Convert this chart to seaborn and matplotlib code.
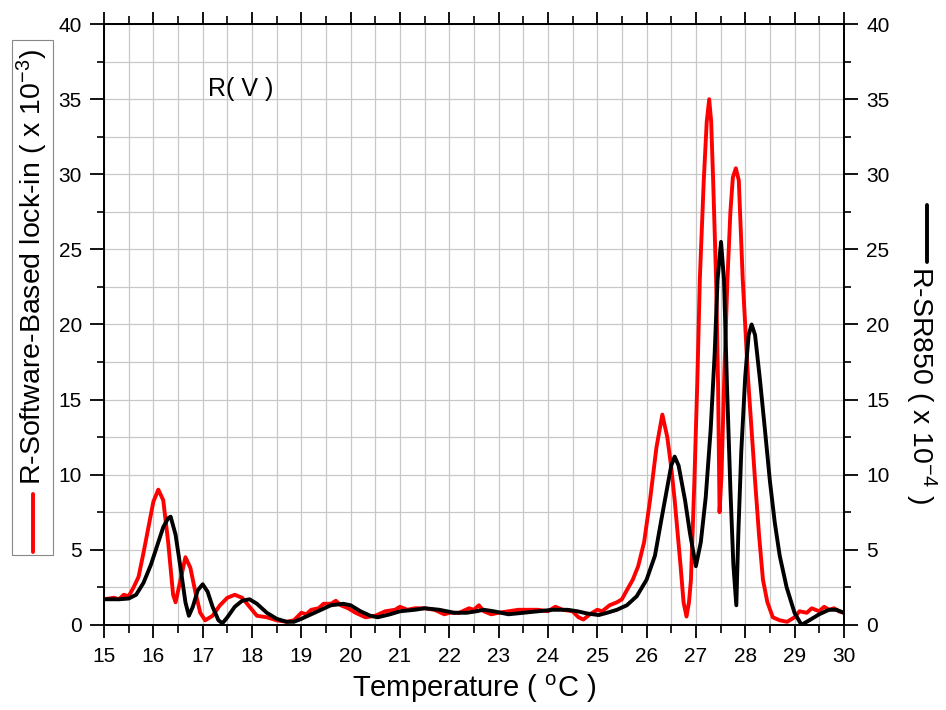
import numpy as np
import pandas as pd
import seaborn as sns
import matplotlib.pyplot as plt
from matplotlib.lines import Line2D
from matplotlib.patches import Rectangle
from matplotlib.ticker import MultipleLocator

# R - software-based lock-in (x 10^-3)
red_t = [15.0, 15.2, 15.3, 15.4, 15.5, 15.6, 15.7, 15.8, 15.9, 16.0, 16.1, 16.2, 16.3, 16.4, 16.45,
         16.55, 16.65, 16.75, 16.85, 16.95, 17.05, 17.2, 17.35, 17.5, 17.65, 17.8, 17.95, 18.1, 18.3,
         18.5, 18.7, 18.85, 19.0, 19.1, 19.2, 19.35, 19.45, 19.6, 19.7, 19.8, 19.95, 20.1, 20.3, 20.5,
         20.7, 20.9, 21.0, 21.15, 21.3, 21.5, 21.7, 21.9, 22.0, 22.2, 22.4, 22.5, 22.6, 22.7, 22.85,
         23.0, 23.2, 23.4, 23.6, 23.8, 24.0, 24.15, 24.3, 24.5, 24.62, 24.72, 24.85, 25.0, 25.1, 25.25,
         25.4, 25.5, 25.6, 25.72, 25.83, 25.95, 26.07, 26.2, 26.32, 26.42, 26.5, 26.57, 26.69, 26.75,
         26.81, 26.86, 26.9, 26.97, 27.03, 27.08, 27.16, 27.22, 27.27, 27.31, 27.35, 27.41, 27.45,
         27.48, 27.52, 27.58, 27.64, 27.7, 27.75, 27.81, 27.87, 27.95, 28.06, 28.2, 28.28, 28.36,
         28.45, 28.56, 28.7, 28.85, 29.0, 29.1, 29.25, 29.35, 29.5, 29.6, 29.7, 29.8, 29.9, 30.0]
red_r = [1.7, 1.8, 1.7, 2.0, 1.9, 2.5, 3.2, 4.8, 6.5, 8.2, 9.0, 8.3, 5.5, 2.0, 1.5,
         3.0, 4.5, 3.8, 2.2, 0.8, 0.3, 0.6, 1.3, 1.8, 2.0, 1.8, 1.2, 0.6, 0.5,
         0.3, 0.2, 0.3, 0.8, 0.7, 1.0, 1.1, 1.4, 1.4, 1.6, 1.3, 1.1, 0.8, 0.5, 0.6,
         0.9, 1.0, 1.2, 1.0, 1.1, 1.1, 1.0, 0.7, 0.8, 0.8, 1.1, 1.0, 1.3, 0.9, 0.7,
         0.8, 0.9, 1.0, 1.0, 1.0, 0.9, 1.2, 1.0, 0.9, 0.5, 0.35, 0.7, 1.0, 0.9, 1.3,
         1.5, 1.7, 2.3, 3.0, 3.9, 5.5, 8.3, 11.8, 14.0, 12.5, 10.5, 8.3, 3.9, 1.5,
         0.55, 1.5, 3.0, 9.6, 16.3, 23.0, 29.6, 33.5, 35.0, 33.5, 29.6, 23.0, 16.0,
         7.5, 10.0, 17.0, 23.0, 27.5, 29.8, 30.4, 29.6, 23.0, 16.3, 9.6, 6.0, 3.0,
         1.5, 0.5, 0.3, 0.2, 0.5, 0.9, 0.8, 1.1, 0.9, 1.2, 1.0, 1.1, 0.9, 0.8]

# R - SR850 (x 10^-4)
blk_t = [15.0, 15.3, 15.5, 15.65, 15.8, 15.95, 16.1, 16.2, 16.3, 16.35, 16.45, 16.55, 16.65, 16.72,
         16.8, 16.9, 17.0, 17.1, 17.2, 17.32, 17.4, 17.5, 17.65, 17.8, 17.95, 18.1, 18.3, 18.5, 18.7,
         18.85, 19.0, 19.2, 19.4, 19.6, 19.85, 20.0, 20.2, 20.4, 20.55, 20.8, 21.0, 21.3, 21.5, 21.8,
         22.1, 22.35, 22.55, 22.7, 22.9, 23.2, 23.5, 23.8, 24.1, 24.4, 24.6, 24.8, 25.03, 25.2, 25.4,
         25.6, 25.8, 26.0, 26.17, 26.3, 26.4, 26.5, 26.57, 26.65, 26.78, 26.88, 27.0, 27.1, 27.2,
         27.3, 27.38, 27.44, 27.51, 27.57, 27.63, 27.7, 27.76, 27.82, 27.86, 27.92, 28.0, 28.07, 28.13,
         28.2, 28.3, 28.4, 28.5, 28.6, 28.7, 28.84, 29.0, 29.14, 29.3, 29.5, 29.7, 29.85, 30.0]
blk_r = [1.7, 1.7, 1.75, 2.0, 2.8, 4.0, 5.5, 6.5, 7.1, 7.2, 6.0, 3.8, 1.5, 0.6,
         1.2, 2.3, 2.7, 2.2, 1.2, 0.3, 0.1, 0.5, 1.2, 1.6, 1.7, 1.4, 0.8, 0.4, 0.2,
         0.2, 0.4, 0.7, 1.0, 1.3, 1.4, 1.3, 0.9, 0.6, 0.5, 0.7, 0.9, 1.0, 1.1, 1.0,
         0.8, 0.8, 0.9, 1.0, 0.9, 0.7, 0.8, 0.9, 1.0, 1.0, 0.9, 0.75, 0.65, 0.8, 1.0,
         1.3, 1.9, 3.0, 4.6, 7.0, 8.8, 10.6, 11.2, 10.6, 8.3, 6.1, 3.9, 5.5, 8.5,
         13.0, 18.0, 23.0, 25.5, 23.0, 16.0, 9.0, 4.0, 1.3, 6.0, 11.5, 16.5, 19.3, 20.0,
         19.3, 16.3, 13.0, 9.6, 6.8, 4.6, 2.5, 0.8, 0.0, 0.3, 0.7, 1.0, 1.0, 0.8]

sns.set_theme(style="ticks")
plt.rcParams["font.family"] = ["Liberation Sans", "DejaVu Sans"]
plt.rcParams["mathtext.fontset"] = "custom"
plt.rcParams["mathtext.rm"] = "Liberation Sans"
plt.rcParams["mathtext.it"] = "Liberation Sans"
plt.rcParams["text.color"] = "black"
plt.rcParams["axes.labelcolor"] = "black"
plt.rcParams["xtick.color"] = "black"
plt.rcParams["ytick.color"] = "black"

df_red = pd.DataFrame({"t": red_t, "r": red_r})
df_blk = pd.DataFrame({"t": blk_t, "r": blk_r})

fig = plt.figure(figsize=(9.46, 7.10), dpi=100)
ax = fig.add_axes([0.110, 0.120, 0.782, 0.846])
ax2 = ax.twinx()

sns.lineplot(data=df_red, x="t", y="r", ax=ax, color="#ff0000", lw=2.8, sort=False)
sns.lineplot(data=df_blk, x="t", y="r", ax=ax2, color="black", lw=2.8, sort=False)

for a in (ax, ax2):
    a.set_xlim(15, 30)
    a.set_ylim(0, 40)
    a.yaxis.set_major_locator(MultipleLocator(5))
    a.yaxis.set_minor_locator(MultipleLocator(2.5))
    a.set_ylabel("")
    for s in a.spines.values():
        s.set_linewidth(1.3)
        s.set_color("black")

ax.xaxis.set_major_locator(MultipleLocator(1))
ax.xaxis.set_minor_locator(MultipleLocator(0.5))
ax.grid(True, which="both", color="#c8c8c8", lw=0.9)
ax.set_axisbelow(True)

ax.tick_params(axis="x", which="major", direction="out", length=9, width=1.3,
               labelsize=15, pad=7, top=True)
ax.tick_params(axis="x", which="minor", direction="out", length=6, width=1.2, top=True)
for a in (ax, ax2):
    a.tick_params(axis="y", which="major", direction="out", length=10, width=1.3,
                  labelsize=15, pad=6)
    a.tick_params(axis="y", which="minor", direction="out", length=5, width=1.2)

ax.set_xlabel("Temperature ( $^{\\mathrm{o}}$C )", fontsize=21, labelpad=5)
ax.text(17.78, 35.7, "R( V )", fontsize=18, ha="center", va="center")

# left axis label with legend handle in a box
fig.patches.append(Rectangle((12 / 946, 1 - 555 / 710), 41 / 946, 515 / 710,
                             transform=fig.transFigure, fill=False, ec="#888888", lw=0.8))
fig.text(32 / 946, 1 - 267 / 710, "R-Software-Based lock-in ( x 10$^{-3}$)",
         rotation=90, ha="center", va="center", fontsize=20.5)
fig.add_artist(Line2D([33 / 946, 33 / 946], [1 - 552 / 710, 1 - 494 / 710],
                      transform=fig.transFigure, color="#ff0000", lw=2.8))

# right axis label with legend handle
fig.add_artist(Line2D([927 / 946, 927 / 946], [1 - 262 / 710, 1 - 205 / 710],
                      transform=fig.transFigure, color="black", lw=2.8))
fig.text(921 / 946, 1 - 385 / 710, "R-SR850 ( x 10$^{-4}$ )",
         rotation=270, ha="center", va="center", fontsize=20.5)

fig.savefig("out.png", dpi=100)
